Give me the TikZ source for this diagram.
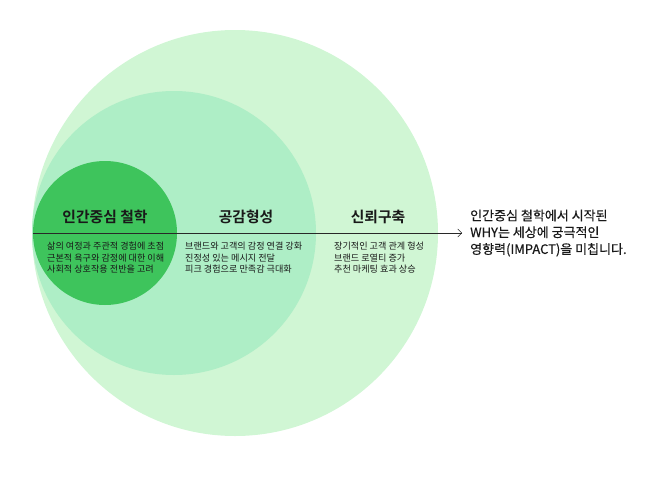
\documentclass[tikz,border=0pt]{standalone}
\usepackage{fontspec}
\setmainfont{Noto Sans CJK KR}[BoldFont={Noto Sans CJK KR Bold}]
\newfontfamily\notefont{Noto Sans CJK KR}[BoldFont={Noto Sans CJK KR}, BoldFeatures={FakeBold=0.5}]
\usetikzlibrary{arrows.meta, positioning}
\definecolor{trustgreen}{RGB}{208,246,212}
\definecolor{empathygreen}{RGB}{174,238,198}
\definecolor{coregreen}{RGB}{62,196,92}
\definecolor{inkgray}{RGB}{40,40,40}
\tikzset{
    base/.style = {inner sep=0pt, text=black!90},
    % Circles
    ring/.style  = {circle, draw=none, inner sep=0pt},
    % Texts
    title/.style = {base, font=\bfseries\fontsize{14.8}{17}\selectfont},
    body/.style  = {base, anchor=north west, align=left, font=\fontsize{9.1}{11.5}\selectfont},
    note/.style  = {base, anchor=west, align=left, font=\notefont\bfseries\fontsize{13}{16.8}\selectfont},
    % Edges
    arrow/.style = {thin, draw=inkgray, -{Straight Barb[length=4pt, width=8pt]}}
}

\begin{document}
\begin{tikzpicture}[x=1pt, y=-1pt]
    \useasboundingbox (0,0) rectangle (658,479);

    % Nested circles
    \node (trust)   [ring, fill=trustgreen,   minimum size=406pt] at (235,233) {};
    \node (empathy) [ring, fill=empathygreen, minimum size=284pt] at (174,233) {};
    \node (core)    [ring, fill=coregreen,    minimum size=144pt] at (105,233) {};

    % Titles
    \node (coretitle)    [title] at (105,217) {인간중심 철학};
    \node (empathytitle) [title] at (246,217) {공감형성};
    \node (trusttitle)   [title] at (378,217) {신뢰구축};

    % Descriptions
    \node (corebody) [body] at (47,242) {삶의 여정과 주관적 경험에 초점\\근본적 욕구와 감정에 대한 이해\\사회적 상호작용 전반을 고려};
    \node (empathybody) [body] at (185,242) {브랜드와 고객의 감정 연결 강화\\진정성 있는 메시지 전달\\피크 경험으로 만족감 극대화};
    \node (trustbody) [body] at (334,242) {장기적인 고객 관계 형성\\브랜드 로열티 증가\\추천 마케팅 효과 상승};

    \node (why) [note] at (470,233) {인간중심 철학에서 시작된\\WHY는 세상에 궁극적인\\영향력(IMPACT)을 미칩니다.};

    % Axis arrow
    \draw [arrow, shorten >=8pt] (core.west) -- (why.west);
\end{tikzpicture}
\end{document}
